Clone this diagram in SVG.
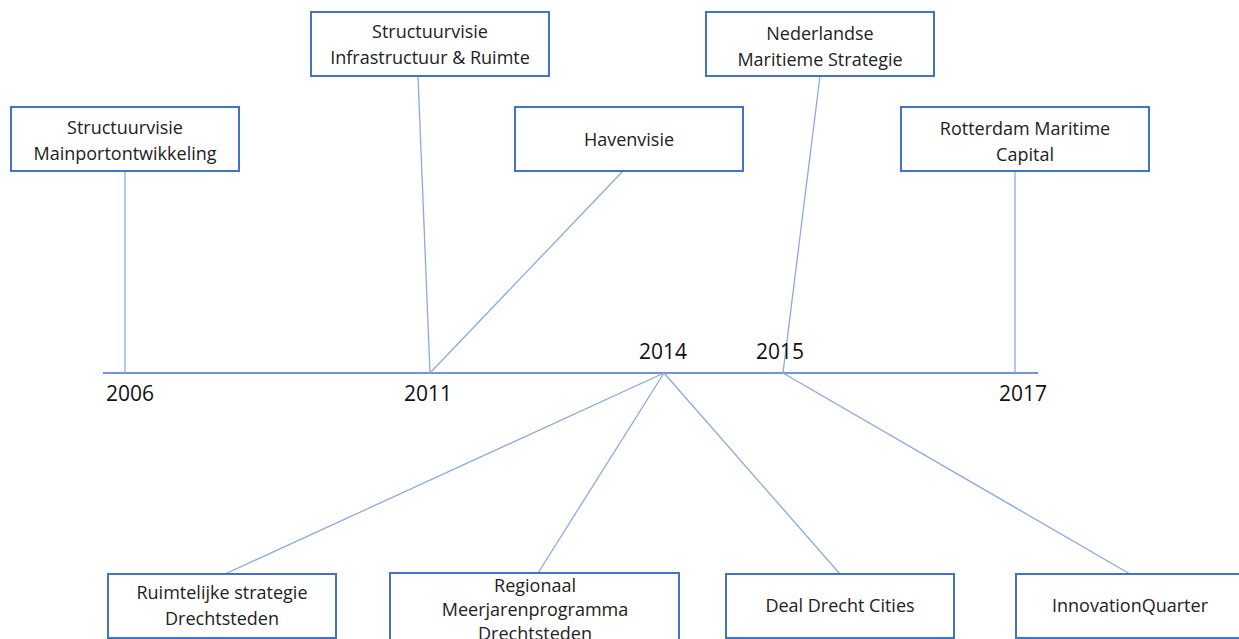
<svg xmlns="http://www.w3.org/2000/svg" width="1239" height="639" viewBox="0 0 1239 639">
<style>
.box{fill:#fff;stroke:#4472C4;stroke-width:2}
.c{stroke:#8EA9DB;stroke-width:1.3;fill:none}
.t{font-family:"Open Sans","Liberation Sans",sans-serif;font-size:18px;fill:#222;text-anchor:middle}
.y{font-family:"Open Sans","Liberation Sans",sans-serif;font-size:21px;fill:#111}
</style>
<rect width="1239" height="639" fill="#fff"/>
<g id="connectors">
<line class="c" x1="103" y1="373" x2="1038" y2="373" style="stroke:#4472C4"/>
<line class="c" x1="125" y1="171" x2="125" y2="373"/>
<line class="c" x1="418" y1="76" x2="430" y2="373"/>
<line class="c" x1="623" y1="171" x2="430" y2="373"/>
<line class="c" x1="820" y1="76" x2="783" y2="373"/>
<line class="c" x1="1015" y1="171" x2="1015" y2="373"/>
<line class="c" x1="664" y1="373" x2="225" y2="574"/>
<line class="c" x1="664" y1="373" x2="538" y2="573"/>
<line class="c" x1="664" y1="373" x2="840" y2="574"/>
<line class="c" x1="783" y1="373" x2="1130" y2="574"/>
</g>
<g id="years">
<text class="y" x="106" y="401">2006</text>
<text class="y" x="404" y="401">2011</text>
<text class="y" x="639" y="359">2014</text>
<text class="y" x="756" y="359">2015</text>
<text class="y" x="999" y="401">2017</text>
</g>
<g id="n1"><rect class="box" x="11" y="107" width="228" height="64"/><text class="t" x="125" y="134">Structuurvisie</text><text class="t" x="125" y="160">Mainportontwikkeling</text></g>
<g id="n2"><rect class="box" x="311" y="12" width="238" height="64"/><text class="t" x="430" y="38">Structuurvisie</text><text class="t" x="430" y="64">Infrastructuur &amp; Ruimte</text></g>
<g id="n3"><rect class="box" x="515" y="107" width="228" height="64"/><text class="t" x="629" y="146">Havenvisie</text></g>
<g id="n4"><rect class="box" x="706" y="12" width="228" height="64"/><text class="t" x="820" y="40">Nederlandse</text><text class="t" x="820" y="66">Maritieme Strategie</text></g>
<g id="n5"><rect class="box" x="901" y="107" width="248" height="64"/><text class="t" x="1025" y="135">Rotterdam Maritime</text><text class="t" x="1025" y="161">Capital</text></g>
<g id="n6"><rect class="box" x="108" y="574" width="228" height="64"/><text class="t" x="222" y="599">Ruimtelijke strategie</text><text class="t" x="222" y="625">Drechtsteden</text></g>
<g id="n7"><rect class="box" x="390" y="573" width="289" height="70"/><text class="t" x="535" y="592">Regionaal</text><text class="t" x="535" y="616">Meerjarenprogramma</text><text class="t" x="535" y="640">Drechtsteden</text></g>
<g id="n8"><rect class="box" x="726" y="574" width="228" height="64"/><text class="t" x="840" y="612">Deal Drecht Cities</text></g>
<g id="n9"><rect class="box" x="1016" y="574" width="240" height="64"/><text class="t" x="1130" y="612">InnovationQuarter</text></g>
</svg>
